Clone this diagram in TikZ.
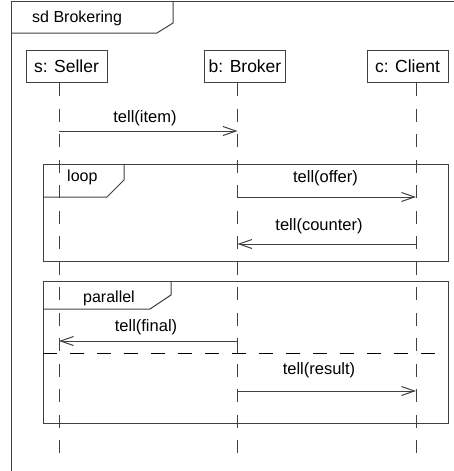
\documentclass[tikz,border=0pt]{standalone}
\usepackage{fontspec}
\setmainfont{Liberation Sans}
\usetikzlibrary{arrows.meta}
\definecolor{lc}{RGB}{64,64,64}
\begin{document}
\begin{tikzpicture}[x=1pt,y=-1pt,
  frameline/.style={draw=lc,line width=1pt},
  head/.style={draw=lc,line width=1pt,minimum width=81pt,minimum height=32pt,inner sep=0pt,font=\fontsize{17.5}{20}\selectfont},
  lifeline/.style={draw=lc,line width=1pt,dash pattern=on 13pt off 12.5pt},
  sepline/.style={draw=black,line width=1pt,dash pattern=on 13.5pt off 13.5pt},
  msg/.style={draw=lc,line width=1pt,-{Straight Barb[length=13pt,width=9pt,line width=1pt]}},
  lbl/.style={inner sep=0pt,font=\fontsize{16.5}{19}\selectfont},
  tablbl/.style={inner sep=0pt,anchor=west,font=\fontsize{16}{19}\selectfont}]
\useasboundingbox (0,0) rectangle (454,471);
% outer frame (cropped)
\draw[frameline] (11,475) -- (11,1) -- (460,1);
\draw[frameline] (11,33) -- (157,33) -- (173,23) -- (173,1);
\node[tablbl] (title) at (32,18) {sd Brokering};
% loop frame
\draw[frameline] (43,164) rectangle (448,261);
\draw[frameline] (43,197) -- (107,197) -- (124,180) -- (124,164);
\node[tablbl] (looplbl) at (67,177) {loop};
% parallel frame
\draw[frameline] (43,281) rectangle (448,423);
\draw[frameline] (43,309) -- (150,309) -- (171,295) -- (171,281);
\node[tablbl] (parlbl) at (83,298) {parallel};
\coordinate (sepL) at (43,353);
\coordinate (sepR) at (448,353);
\draw[sepline] (sepL) -- (sepR);
% heads
\node[head] (s) at (66.5,66.5) {s: Seller};
\node[head] (b) at (245,66.5) {b: Broker};
\node[head] (c) at (407.5,66.5) {c: Client};
% lifelines
\coordinate (sEnd) at (59,455);
\coordinate (bEnd) at (237.5,455);
\coordinate (cEnd) at (416,455);
\draw[lifeline] (59,83) -- (sEnd);
\draw[lifeline] (237.5,83) -- (bEnd);
\draw[lifeline] (416,83) -- (cEnd);
% message anchors
\coordinate (s1) at (59,131);   \coordinate (b1) at (237.5,131);
\coordinate (b2) at (237.5,197); \coordinate (c2) at (416,197);
\coordinate (c3) at (416,244);  \coordinate (b3) at (237.5,244);
\coordinate (b4) at (237.5,341); \coordinate (s4) at (59,341);
\coordinate (b5) at (237.5,391); \coordinate (c5) at (416,391);
% messages
\draw[msg] (s1) -- (b1);
\draw[msg] (b2) -- (c2);
\draw[msg] (c3) -- (b3);
\draw[draw=lc,line width=1pt] (b4) -- (237.5,353);
\draw[msg] (b4) -- (s4);
\draw[msg] (b5) -- (c5);
% labels
\node[lbl] (l1) at (145,118) {tell(item)};
\node[lbl] (l2) at (325.5,178) {tell(offer)};
\node[lbl] (l3) at (319,226) {tell(counter)};
\node[lbl] (l4) at (146,327) {tell(final)};
\node[lbl] (l5) at (319,370) {tell(result)};
\end{tikzpicture}
\end{document}
